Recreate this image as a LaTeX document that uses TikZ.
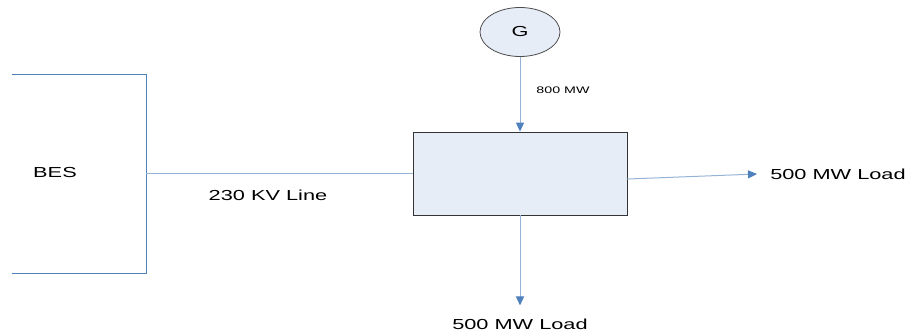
\documentclass[tikz,border=0pt]{standalone}
\usepackage{fontspec}
\setmainfont{Liberation Sans}
\usetikzlibrary{arrows.meta,shapes.geometric}
\definecolor{lineblue}{HTML}{4F81BD}
\definecolor{paleblue}{HTML}{95B3D7}
\definecolor{boxfill}{HTML}{E7EDF7}

\begin{document}
\begin{tikzpicture}[x=1pt,y=1pt,
    txt/.style={font=\fontsize{14.5}{16}\selectfont, xscale=1.5, transform shape, inner sep=0pt},
    flow/.style={draw=paleblue, line width=1pt, -{Triangle[length=9pt,width=8pt,color=lineblue]}}]
   \useasboundingbox (0,0) rectangle (909,335);
   % BES bracket
   \draw[color=lineblue, line width=0.8pt] (12,261) -- (146,261) -- (146,62) -- (12,62);
   \node[txt] (bes) at (55,162) {BES};
   \coordinate (tap) at (146,161.5);
   % bus box and generator
   \node[draw=black!80, fill=boxfill, line width=0.8pt, minimum width=214pt, minimum height=83pt] (bus) at (520,161.5) {};
   \node[draw=black!70, fill=boxfill, ellipse, line width=0.8pt, minimum width=80pt, minimum height=49pt, inner sep=0pt] (gen) at (520,303) {};
   \node[txt] at (gen) {G};
   \draw[color=paleblue, line width=1pt] (tap) -- (bus.west);
   \node[txt] (line) at (268,140) {230 KV Line};
   \draw[flow] (gen.south) -- (bus.north);
   \node[txt, font=\fontsize{9.5}{11}\selectfont] (gout) at (563,245) {800 MW};
   % loads
   \node[txt, anchor=west] (loadE) at (770,161) {500 MW Load};
   \node[txt] (loadS) at (520,11) {500 MW Load};
   \draw[flow] ([yshift=-5.5pt]bus.east) -- ([xshift=-13pt]loadE.west);
   \draw[flow] (bus.south) -- ([yshift=13pt]loadS.north);
\end{tikzpicture}
\end{document}
